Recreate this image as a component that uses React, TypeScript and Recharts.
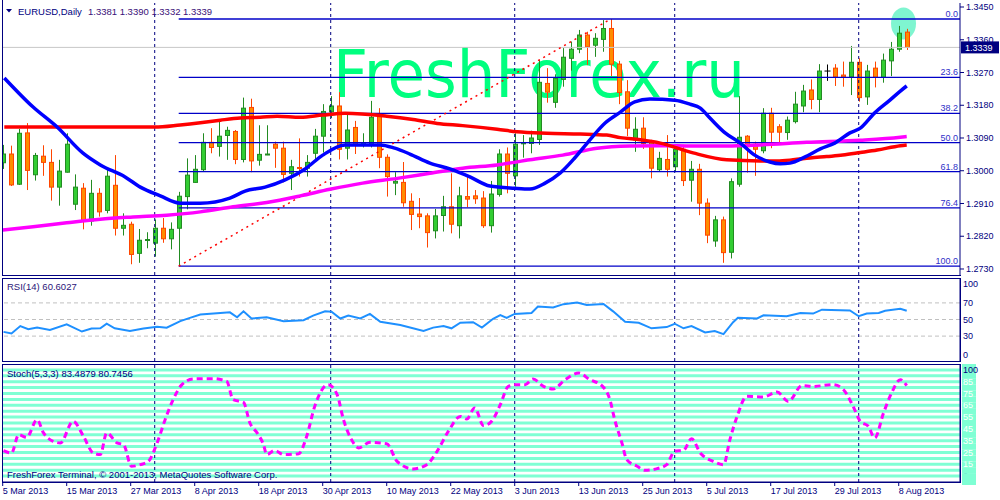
import { ComposedChart, Bar, Line, XAxis, YAxis, ReferenceLine, ReferenceDot } from "recharts";

const FONT = "'Liberation Sans', Arial, sans-serif";
const NAVY = "#000080";

// EURUSD daily candles, 5 Mar 2013 .. 9 Aug 2013 (index = bar number)
const opens = [
  1.3022, 1.3046, 1.2963, 1.3104, 1.2989, 1.304, 1.3023, 1.2955, 1.2996, 1.2908,
  1.2952, 1.2862, 1.2938, 1.2891, 1.296, 1.2842, 1.2853, 1.2773, 1.2809, 1.2801,
  1.2842, 1.2813, 1.2842, 1.2929, 1.2968, 1.3003, 1.3078, 1.3067, 1.3097, 1.3108,
  1.3031, 1.3174, 1.3029, 1.3045, 1.3073, 1.3062, 1.2993, 1.3009, 1.3007, 1.3048,
  1.3095, 1.3162, 1.3178, 1.3062, 1.3119, 1.3073, 1.3073, 1.3149, 1.3037, 1.2966,
  1.2968, 1.2916, 1.2881, 1.2876, 1.2835, 1.2877, 1.2901, 1.2849, 1.2929, 1.2931,
  1.2925, 1.2849, 1.2935, 1.3046, 1.2986, 1.3074, 1.3075, 1.3086, 1.324, 1.3188,
  1.3251, 1.3309, 1.3334, 1.3373, 1.3345, 1.3361, 1.3391, 1.3293, 1.3217, 1.3085,
  1.3117, 1.3078, 1.3003, 1.3031, 1.3011, 1.3059, 1.2974, 1.3004, 1.2911, 1.2807,
  1.2865, 1.2776, 1.2963, 1.3095, 1.3073, 1.3055, 1.3158, 1.3121, 1.3105, 1.3135,
  1.3178, 1.3222, 1.3196, 1.3274, 1.3282, 1.3263, 1.3258, 1.3298, 1.3203, 1.3282,
  1.3257, 1.3302, 1.3334, 1.3381,
];
const highs = [
  1.3071, 1.3069, 1.3115, 1.3131, 1.3049, 1.307, 1.3059, 1.303, 1.3103, 1.299,
  1.2966, 1.2975, 1.2952, 1.3004, 1.3043, 1.2883, 1.286, 1.284, 1.2831, 1.2866,
  1.287, 1.2858, 1.2942, 1.3034, 1.3043, 1.3103, 1.3117, 1.3135, 1.3121, 1.3112,
  1.3201, 1.3198, 1.3125, 1.3125, 1.308, 1.308, 1.303, 1.3089, 1.3043, 1.3115,
  1.3183, 1.3205, 1.3216, 1.3158, 1.3137, 1.3103, 1.3192, 1.3172, 1.3045, 1.2996,
  1.3024, 1.2938, 1.2925, 1.2883, 1.2895, 1.2931, 1.2993, 1.2956, 1.2988, 1.2947,
  1.2944, 1.2972, 1.3059, 1.3064, 1.3103, 1.3098, 1.311, 1.3304, 1.3282, 1.3265,
  1.3337, 1.3355, 1.3387, 1.3382, 1.3378, 1.3414, 1.3417, 1.3302, 1.3249, 1.3147,
  1.3147, 1.3085, 1.3052, 1.3098, 1.3066, 1.3071, 1.3027, 1.3019, 1.2924, 1.2876,
  1.2874, 1.2979, 1.3205, 1.3098, 1.308, 1.3172, 1.3173, 1.3128, 1.3149, 1.3217,
  1.3236, 1.3251, 1.3293, 1.3292, 1.3293, 1.33, 1.3343, 1.3309, 1.3291, 1.33,
  1.3322, 1.3354, 1.3398, 1.339,
];
const lows = [
  1.3005, 1.2958, 1.2961, 1.2947, 1.2973, 1.2986, 1.2918, 1.2904, 1.2995, 1.2892,
  1.2839, 1.2849, 1.2874, 1.2883, 1.2822, 1.2822, 1.2743, 1.2747, 1.2787, 1.2764,
  1.2802, 1.2784, 1.2738, 1.2894, 1.2967, 1.2999, 1.3048, 1.3039, 1.303, 1.3018,
  1.3023, 1.2996, 1.3014, 1.3043, 1.3008, 1.2968, 1.2947, 1.2984, 1.2984, 1.3025,
  1.305, 1.3145, 1.3031, 1.3031, 1.3046, 1.3064, 1.3064, 1.3007, 1.2929, 1.2933,
  1.2901, 1.2837, 1.2842, 1.2789, 1.2814, 1.2833, 1.2828, 1.2814, 1.29, 1.2909,
  1.2843, 1.283, 1.2929, 1.2938, 1.2956, 1.3036, 1.3048, 1.3071, 1.3187, 1.3173,
  1.3231, 1.3275, 1.3323, 1.3291, 1.3313, 1.3327, 1.326, 1.3183, 1.3095, 1.3052,
  1.306, 1.2979, 1.2997, 1.2984, 1.2997, 1.2958, 1.2915, 1.2878, 1.2801, 1.2791,
  1.2747, 1.2759, 1.2956, 1.2995, 1.2986, 1.3048, 1.3062, 1.3077, 1.3085, 1.313,
  1.3161, 1.3169, 1.3161, 1.3247, 1.3233, 1.3231, 1.3208, 1.319, 1.3181, 1.3229,
  1.3242, 1.326, 1.3327, 1.3332,
];
const closes = [
  1.3046, 1.2961, 1.3103, 1.3001, 1.3042, 1.3023, 1.2955, 1.2999, 1.3073, 1.2955,
  1.2862, 1.2938, 1.2887, 1.2985, 1.2842, 1.285, 1.277, 1.2809, 1.2811, 1.2842,
  1.2813, 1.2839, 1.293, 1.2988, 1.3004, 1.3078, 1.3064, 1.3095, 1.3111, 1.3031,
  1.3172, 1.3027, 1.3045, 1.3046, 1.3062, 1.299, 1.3011, 1.3007, 1.3023, 1.3095,
  1.3163, 1.3178, 1.3059, 1.3112, 1.3073, 1.3077, 1.3147, 1.3037, 1.2984, 1.2971,
  1.2912, 1.288, 1.2874, 1.283, 1.2876, 1.2901, 1.2853, 1.2931, 1.2922, 1.2923,
  1.2849, 1.2936, 1.3046, 1.2993, 1.3073, 1.3077, 1.309, 1.3243, 1.3216, 1.3254,
  1.3312, 1.3334, 1.3373, 1.3341, 1.3364, 1.3391, 1.3293, 1.3215, 1.3117, 1.3114,
  1.3075, 1.3007, 1.3034, 1.3004, 1.3059, 1.2973, 1.3004, 1.2911, 1.2823, 1.2865,
  1.2775, 1.297, 1.3092, 1.3066, 1.3059, 1.3158, 1.3106, 1.3106, 1.3139, 1.3183,
  1.3219, 1.3196, 1.3274, 1.3274, 1.3258, 1.3258, 1.3298, 1.3201, 1.3274, 1.3257,
  1.3304, 1.3334, 1.3378, 1.3339,
];

const dateTicks = [0, 8, 16, 24, 32, 40, 48, 56, 64, 72, 80, 88, 96, 104, 112];
const dateLabels = [
  "5 Mar 2013", "15 Mar 2013", "27 Mar 2013", "8 Apr 2013", "18 Apr 2013",
  "30 Apr 2013", "10 May 2013", "22 May 2013", "3 Jun 2013", "13 Jun 2013",
  "25 Jun 2013", "5 Jul 2013", "17 Jul 2013", "29 Jul 2013", "8 Aug 2013",
];
const monthStarts = [19, 41, 64, 84, 107];

// moving averages, read at these bar positions
const blueBars = [0.2, 3.8, 6.8, 10, 12.2, 15.3, 17.2, 19.7, 22.2, 24.7, 28.4, 30.3, 32.8, 35.3, 37.8, 40, 42.8, 47.2, 49, 50.9, 53.4, 55.9, 58.4, 60.9, 64, 65.9, 67.8, 69.7, 71.5, 73.4, 75.3, 77.2, 79, 80.9, 84, 85.9, 87.2, 88.4, 90.3, 92.2, 94, 95.9, 97.2, 98.4, 100.3, 102.2, 104, 105.9, 107.2, 109, 110.9, 112.2, 113];
const blueValues = [1.3255, 1.3175, 1.312, 1.3049, 1.3016, 1.2983, 1.2955, 1.2931, 1.2911, 1.2911, 1.2925, 1.2944, 1.2955, 1.2975, 1.3005, 1.3043, 1.3071, 1.3071, 1.3062, 1.3046, 1.3021, 1.3005, 1.2983, 1.2958, 1.2952, 1.295, 1.2966, 1.2994, 1.3035, 1.3085, 1.3131, 1.3161, 1.3189, 1.3197, 1.3194, 1.3183, 1.3172, 1.3145, 1.3104, 1.3076, 1.3043, 1.3024, 1.3019, 1.3021, 1.3038, 1.306, 1.3076, 1.3104, 1.3117, 1.3159, 1.3194, 1.3219, 1.3233];
const redBars = [0.2, 19, 22.2, 24.7, 27.2, 29.7, 32.2, 34.3, 37.2, 40, 42.8, 48, 51.3, 54.3, 57.5, 61.8, 64.3, 68, 72.2, 75.5, 77.2, 79.7, 82.2, 86.3, 90.5, 94.7, 96.8, 98.8, 100.9, 103, 105, 107.2, 109.3, 112.2, 113];
const redValues = [1.312, 1.312, 1.3126, 1.3132, 1.3139, 1.3145, 1.3147, 1.315, 1.3147, 1.3153, 1.3158, 1.315, 1.3141, 1.313, 1.3124, 1.3114, 1.3107, 1.3103, 1.3101, 1.3098, 1.3091, 1.3085, 1.3076, 1.3049, 1.303, 1.3027, 1.3027, 1.303, 1.3035, 1.3039, 1.3043, 1.305, 1.3057, 1.3069, 1.3071];
const magentaBars = [0, 3.8, 8, 12.2, 16.3, 20.5, 24.7, 28.8, 33, 37.2, 40.9, 45, 49.3, 53.4, 57.5, 61.8, 65.9, 70, 74.3, 78.4, 82.2, 86.3, 90.5, 94.7, 100.5, 107.2, 112.2, 113];
const magentaValues = [1.2837, 1.2846, 1.2857, 1.2867, 1.2873, 1.2878, 1.2887, 1.2901, 1.2913, 1.2931, 1.2949, 1.2966, 1.2979, 1.2993, 1.3007, 1.3016, 1.303, 1.3043, 1.3062, 1.3068, 1.3069, 1.3068, 1.3068, 1.3071, 1.3078, 1.3084, 1.3092, 1.3094];

const priceTicks = [1.273, 1.282, 1.291, 1.3, 1.309, 1.318, 1.327, 1.336, 1.345];
const lastPrice = 1.3339;
const fibRatios = [0, 23.6, 38.2, 50, 61.8, 76.4, 100];
const fibHigh = { bar: 76, price: 1.3417 };
const fibLow = { bar: 22, price: 1.2738 };

const rsiBars = [0.1, 1.1, 2.2, 3.2, 4.3, 5.9, 8, 9.9, 11.1, 12.2, 13, 14, 15.9, 17.6, 19.3, 20.5, 22.2, 23.4, 24.7, 27.2, 28.4, 29.3, 30.1, 31.1, 33, 35.1, 37.6, 38.8, 40.3, 41.1, 42.2, 43.2, 44.7, 45.9, 47.2, 49.7, 52.6, 53.8, 55.1, 56.1, 57.2, 58.8, 59.9, 61.3, 62.2, 63, 64, 66.1, 66.9, 68.8, 70.1, 71.8, 73, 75.1, 76.3, 77.8, 79.5, 81.1, 83, 84, 85.1, 86.1, 87.8, 89, 90.1, 91.3, 91.9, 94.3, 95.1, 98, 99.7, 101.3, 102.4, 105.9, 107, 108, 109.5, 110.3, 112.2, 113];
const rsiValues = [35.1, 33.2, 42.1, 38.2, 40.2, 37.4, 44.1, 35.5, 39.1, 39.4, 44.9, 39.4, 36.2, 39.1, 41.4, 40.2, 48, 52, 55.9, 57.9, 58.6, 52.7, 59.8, 51.2, 52.7, 48, 49.2, 54.7, 59.8, 59.4, 51.2, 54.7, 51.2, 56.7, 47.3, 43.3, 36.2, 40.2, 42.1, 39.4, 46.1, 46.8, 40.2, 50.8, 55.3, 52, 56.7, 57.9, 65.6, 64.5, 68.5, 70.4, 67.6, 68.8, 59.8, 47.3, 46.1, 39.4, 40.9, 44.9, 39.4, 42.1, 34.4, 36.2, 32.4, 46.8, 52, 51.2, 55.1, 53.9, 57.9, 57.1, 61.8, 60.9, 53.9, 57.1, 57.9, 60.6, 62.9, 60.6];
const rsiLevels = [30, 50, 70];
const rsiTicks = [0, 30, 50, 70, 100];

const stochBars = [0.1, 1.1, 2, 3, 4.3, 5.1, 6.3, 7.2, 8.8, 10.1, 11.3, 12.2, 13, 14.3, 15.1, 16.1, 17.2, 18.2, 19.3, 20.3, 21.3, 22.4, 23.8, 26.3, 28, 28.8, 30.1, 30.9, 31.8, 32.6, 33, 34, 35.1, 37, 38, 39, 40.7, 41.8, 42.6, 43.6, 44.5, 45.9, 48, 49.3, 51.3, 53, 54.3, 55.7, 57.2, 58, 59, 60.1, 61.1, 62.2, 63.2, 64.3, 65.3, 66.3, 67.6, 68.8, 70.3, 72, 73.4, 74.9, 75.9, 76.5, 77.4, 78, 79.3, 80.3, 81.8, 83, 84, 85.1, 86.1, 87.2, 88.8, 90.1, 90.9, 91.8, 93, 95.1, 96.8, 98.2, 99.9, 101.3, 103.8, 105.1, 106.3, 107.2, 108.2, 109, 110.1, 111.1, 112.2, 113];
const stochValues = [26.6, 24.6, 40.1, 37.8, 52.8, 41.6, 34.5, 33.1, 51.4, 38.7, 24.6, 23.2, 41.6, 33.1, 31.7, 13.3, 14.7, 17.5, 33.1, 52.8, 69.8, 82.5, 87.3, 87.6, 85.3, 69.8, 67.5, 50, 41.6, 31.7, 23.2, 26.8, 23.2, 24, 38.7, 64.1, 82.5, 74, 52.8, 35.9, 28.9, 33.6, 32.5, 17.5, 11.1, 14.7, 26, 42.9, 55.6, 53.4, 62.7, 47.8, 51.4, 65.5, 81, 82.5, 82.5, 87.3, 81, 78.8, 86.7, 92.4, 86.7, 81.6, 69.8, 52.8, 33.1, 19, 13.3, 9.9, 11.3, 14.7, 26, 26.8, 36.7, 24.6, 17.5, 14.7, 35.9, 55.6, 72.6, 72.1, 76.3, 68.3, 81.6, 81, 82.5, 78.2, 64.1, 51.4, 47.2, 37.3, 58.5, 75.4, 86.7, 81.6];
const stochLevels = [5, 10, 15, 20, 25, 30, 35, 40, 45, 50, 55, 60, 65, 70, 75, 80, 85, 90, 95];
const stochTicks = [0, 5, 10, 15, 20, 25, 30, 35, 40, 45, 50, 55, 60, 65, 70, 75, 80, 85, 90, 95, 100];
const stochShown = [100, 85, 75, 65, 55, 45, 35, 25, 15, 0];

const X_DOMAIN: [number, number] = [-0.0875, 119.66];
const PRICE_DOMAIN: [number, number] = [1.27135, 1.3461];

const candles = opens.map((o, i) => ({
  i,
  o,
  h: highs[i],
  l: lows[i],
  c: closes[i],
  range: [lows[i], highs[i]],
}));
const zip = (bars: number[], vals: number[]) => bars.map((b, k) => ({ i: b, v: vals[k] }));
const blueMa = zip(blueBars, blueValues);
const redMa = zip(redBars, redValues);
const magentaMa = zip(magentaBars, magentaValues);
const rsi = zip(rsiBars, rsiValues);
const stoch = zip(stochBars, stochValues);

function Candle(props: any) {
  const { x, y, width, height, payload } = props;
  if (!payload) return null;
  const { o, h, l, c } = payload;
  const top = Math.min(y, y + height);
  const bottom = Math.max(y, y + height);
  const span = h - l;
  const toY = (v: number) => (span > 0 ? top + ((h - v) / span) * (bottom - top) : top);
  const cx = Math.round(x + width / 2) + 0.5;
  const yo = toY(o);
  const yc = toY(c);
  const doji = o === c;
  const bull = c > o;
  const edge = doji ? "#000000" : bull ? "#228B22" : "#FF4500";
  const fill = bull ? "#32CD32" : "#FF8C00";
  return (
    <g>
      <line x1={cx} x2={cx} y1={top} y2={bottom} stroke={edge} strokeWidth={1} />
      {doji ? (
        <line x1={cx - 3} x2={cx + 3} y1={yo} y2={yo} stroke={edge} strokeWidth={1} />
      ) : (
        <rect
          x={cx - 2}
          y={Math.min(yo, yc)}
          width={4}
          height={Math.max(Math.abs(yc - yo), 1)}
          fill={fill}
          stroke={edge}
          strokeWidth={1}
        />
      )}
    </g>
  );
}

function PriceTag(props: any) {
  const vb = props.viewBox;
  if (!vb) return null;
  const right = vb.x + vb.width;
  return (
    <g>
      <rect x={right + 1} y={vb.y - 6} width={38} height={12} fill={NAVY} />
      <text x={right + 5} y={vb.y + 3.5} fill="#FFFFFF" fontSize={9} fontFamily={FONT}>
        {lastPrice.toFixed(4)}
      </text>
    </g>
  );
}

function RsiTick({ x, y, payload }: any) {
  const v = payload.value;
  const ty = v === 100 ? y + 6 : v === 0 ? y - 6 : y;
  return (
    <text x={x} y={ty} dy="0.35em" fill={NAVY} fontSize={9} fontFamily={FONT}>
      {v}
    </text>
  );
}

function StochTick({ x, y, payload }: any) {
  const v = payload.value;
  const ty = v === 100 ? y + 6 : v === 0 ? y - 6 : y;
  const edgeLabel = v === 100 || v === 0;
  return (
    <g>
      <rect x={x - 1} y={y - 3} width={14} height={6} fill="#7FFFD4" />
      {stochShown.includes(v) && (
        <text
          x={x}
          y={ty}
          dy="0.35em"
          fill={edgeLabel ? NAVY : "#FFFFFF"}
          fontSize={9}
          fontFamily={FONT}
        >
          {v}
        </text>
      )}
    </g>
  );
}

function DateTick({ x, y, payload }: any) {
  const k = dateTicks.indexOf(payload.value);
  return (
    <text x={x} y={y} dy="0.71em" fill={NAVY} fontSize={9} fontFamily={FONT}>
      {dateLabels[k]}
    </text>
  );
}

const separators = (
  key: string
) =>
  monthStarts.map((b) => (
    <ReferenceLine
      key={key + b}
      x={b}
      stroke={NAVY}
      strokeDasharray="3 3"
      strokeWidth={1}
    />
  ));

const fibLevel = (r: number) => fibHigh.price - (r / 100) * (fibHigh.price - fibLow.price);

export default function App() {
  return (
    <div
      style={{
        position: "relative",
        width: 1000,
        height: 500,
        background: "#FFFFFF",
        overflow: "hidden",
        fontFamily: FONT,
      }}
    >
      <style>{`body{margin:0}`}</style>

      {/* watermark behind everything */}
      <svg width={1000} height={500} style={{ position: "absolute", left: 0, top: 0 }}>
        <text
          x={333}
          y={97}
          fontSize={66}
          fill="#00FF7F"
          fontFamily="'DejaVu Sans', Verdana, sans-serif"
          textLength={412}
          lengthAdjust="spacingAndGlyphs"
        >
          FreshForex.ru
        </text>
      </svg>

      {/* highlight layer behind candles */}
      <div style={{ position: "absolute", left: 0, top: 0 }}>
        <ComposedChart width={1000} height={278} data={candles} margin={{ top: 3, right: 40, bottom: 3, left: 2 }}>
          <XAxis dataKey="i" type="number" domain={X_DOMAIN} allowDataOverflow hide />
          <YAxis type="number" domain={PRICE_DOMAIN} allowDataOverflow hide />
          <ReferenceDot
            x={112.6}
            y={1.3405}
            r={1}
            ifOverflow="visible"
            shape={(p: any) => <ellipse cx={p.cx} cy={p.cy} rx={12.5} ry={16} fill="#7FF5D0" />}
          />
        </ComposedChart>
      </div>

      {/* main price panel */}
      <div style={{ position: "absolute", left: 0, top: 0 }}>
        <ComposedChart width={1000} height={278} data={candles} margin={{ top: 3, right: 0, bottom: 3, left: 2 }}>
          <XAxis dataKey="i" type="number" domain={X_DOMAIN} allowDataOverflow hide />
          <YAxis
            orientation="right"
            width={40}
            type="number"
            domain={PRICE_DOMAIN}
            allowDataOverflow
            ticks={priceTicks}
            interval={0}
            tickFormatter={(v: number) => v.toFixed(4)}
            tick={{ fill: NAVY, fontSize: 9, fontFamily: FONT }}
            tickSize={4}
            tickLine={{ stroke: NAVY }}
            axisLine={{ stroke: NAVY }}
          />
          <ReferenceLine y={lastPrice} stroke="#C8C8C8" strokeWidth={1} label={<PriceTag />} />
          {separators("m")}
          {fibRatios.map((r) => (
            <ReferenceLine
              key={"fib" + r}
              segment={[
                { x: fibLow.bar, y: fibLevel(r) },
                { x: X_DOMAIN[1], y: fibLevel(r) },
              ]}
              stroke="#0000C8"
              strokeWidth={1.3}
              ifOverflow="visible"
              label={{
                value: r.toFixed(1),
                position: "insideBottomRight",
                offset: 2,
                fill: "#3030C8",
                fontSize: 9,
                fontFamily: FONT,
              }}
            />
          ))}
          <ReferenceLine
            segment={[
              { x: fibLow.bar, y: fibLow.price },
              { x: fibHigh.bar, y: fibHigh.price },
            ]}
            stroke="#FF0000"
            strokeWidth={1.5}
            strokeDasharray="2 4"
          />
          <Bar dataKey="range" barSize={6} shape={<Candle />} isAnimationActive={false} />
          <Line data={magentaMa} dataKey="v" type="monotone" stroke="#FF00FF" strokeWidth={3.5} dot={false} isAnimationActive={false} />
          <Line data={redMa} dataKey="v" type="monotone" stroke="#FF0000" strokeWidth={3.5} dot={false} isAnimationActive={false} />
          <Line data={blueMa} dataKey="v" type="monotone" stroke="#0000FF" strokeWidth={3.5} dot={false} isAnimationActive={false} />
        </ComposedChart>
      </div>

      {/* RSI panel */}
      <div style={{ position: "absolute", left: 0, top: 278 }}>
        <ComposedChart width={1000} height={83} data={rsi} margin={{ top: 0, right: 0, bottom: 0, left: 2 }}>
          <XAxis dataKey="i" type="number" domain={X_DOMAIN} allowDataOverflow hide />
          <YAxis
            orientation="right"
            width={40}
            type="number"
            domain={[0, 100]}
            ticks={rsiTicks}
            interval={0}
            tick={<RsiTick />}
            tickSize={1}
            tickMargin={2}
            tickLine={false}
            axisLine={{ stroke: NAVY }}
          />
          {rsiLevels.map((v) => (
            <ReferenceLine key={"rl" + v} y={v} stroke="#C0C0C0" strokeDasharray="4 3" />
          ))}
          {separators("r")}
          <Line dataKey="v" type="linear" stroke="#1E90FF" strokeWidth={2} dot={false} isAnimationActive={false} />
        </ComposedChart>
      </div>

      {/* Stochastic panel with date axis */}
      <div style={{ position: "absolute", left: 0, top: 364 }}>
        <ComposedChart width={1000} height={136} data={stoch} margin={{ top: 0, right: 0, bottom: 0, left: 2 }}>
          <XAxis
            dataKey="i"
            type="number"
            domain={X_DOMAIN}
            allowDataOverflow
            ticks={dateTicks}
            interval={0}
            height={18}
            tickSize={4}
            tickLine={{ stroke: NAVY }}
            axisLine={{ stroke: NAVY }}
            tick={<DateTick />}
          />
          <YAxis
            orientation="right"
            width={40}
            type="number"
            domain={[0, 100]}
            ticks={stochTicks}
            interval={0}
            tick={<StochTick />}
            tickSize={1}
            tickMargin={2}
            tickLine={false}
            axisLine={{ stroke: NAVY }}
          />
          {stochLevels.map((v) => (
            <ReferenceLine key={"sl" + v} y={v} stroke="#7FFFD4" strokeWidth={3} />
          ))}
          {separators("s")}
          <Line
            dataKey="v"
            type="monotone"
            stroke="#FF00FF"
            strokeWidth={3}
            strokeDasharray="6 4"
            dot={false}
            isAnimationActive={false}
          />
        </ComposedChart>
      </div>

      {/* panel frames */}
      <div style={{ position: "absolute", left: 2, top: 0, width: 959, height: 276, borderLeft: `1px solid ${NAVY}`, borderBottom: `1px solid ${NAVY}`, boxSizing: "border-box" }} />
      <div style={{ position: "absolute", left: 2, top: 278, width: 959, height: 84, border: `1px solid ${NAVY}`, boxSizing: "border-box" }} />
      <div style={{ position: "absolute", left: 2, top: 364, width: 959, height: 119, border: `1px solid ${NAVY}`, boxSizing: "border-box" }} />

      {/* captions */}
      <svg width={1000} height={500} style={{ position: "absolute", left: 0, top: 0, pointerEvents: "none" }}>
        <polygon points="6,9 12,9 9,12.5" fill={NAVY} />
        <text x={18} y={15} fontSize={9.5} fontFamily={FONT} fill={NAVY}>
          EURUSD,Daily
        </text>
        <text x={88} y={15} fontSize={9.5} fontFamily={FONT} fill="#3A1078">
          1.3381 1.3390 1.3332 1.3339
        </text>
        <text x={7} y={290} fontSize={9.5} fontFamily={FONT} fill="#2A1478">
          RSI(14) 60.6027
        </text>
        <text x={7} y={377} fontSize={9.5} fontFamily={FONT} fill={NAVY}>
          Stoch(5,3,3) 83.4879 80.7456
        </text>
        <text x={7} y={478} fontSize={9.5} fontFamily={FONT} fill={NAVY}>
          FreshForex Terminal, © 2001-2013, MetaQuotes Software Corp.
        </text>
      </svg>
    </div>
  );
}
